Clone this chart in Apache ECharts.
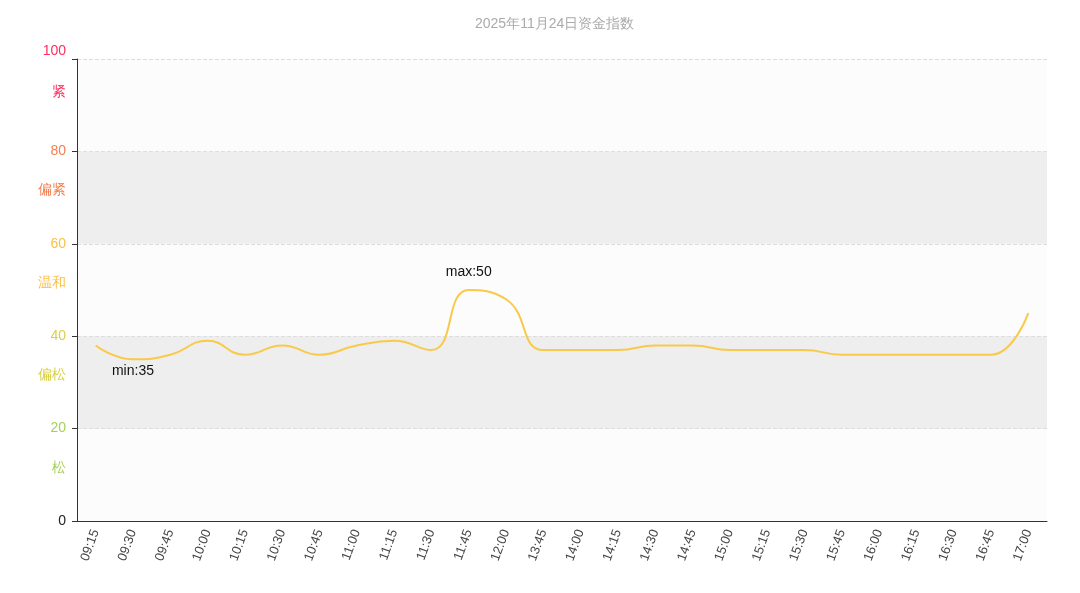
<!DOCTYPE html>
<html><head><meta charset="utf-8">
<script src="https://cdn.jsdelivr.net/npm/echarts@6/dist/echarts.min.js"></script>
<style>html,body{margin:0;padding:0;background:#fff}#c{width:1080px;height:593px}</style>
</head><body><div id="c"></div>
<script>
const titleText = '2025年11月24日资金指数';
const categories = ['09:15','09:30','09:45','10:00','10:15','10:30','10:45','11:00','11:15','11:30','11:45','12:00','13:45','14:00','14:15','14:30','14:45','15:00','15:15','15:30','15:45','16:00','16:15','16:30','16:45','17:00'];
const values = [38,35,36,39,36,38,36,38,39,37,50,48,37,37,37,38,38,37,37,37,36,36,36,36,36,45];
const levelNames = {10:'松',30:'偏松',50:'温和',70:'偏紧',90:'紧'};
const levelColors = {0:'#222',10:'#a6cf5a',20:'#a6cf5a',30:'#d9cf4a',40:'#d9cf4a',50:'#fbbf45',60:'#fbbf45',70:'#f2804e',80:'#f2804e',90:'#ff2d5e',100:'#ff2d5e'};

const chart = echarts.init(document.getElementById('c'));
chart.setOption({
  animation:false,
  title:{text:titleText,left:470,top:12,textStyle:{color:'#aaa',fontSize:14,fontWeight:'normal'}},
  grid:{left:77,right:33,top:59,bottom:72},
  xAxis:{type:'category',data:categories,boundaryGap:true,
    axisLine:{lineStyle:{color:'#333'}},axisTick:{show:false},
    axisLabel:{rotate:70,color:'#444',fontSize:13,interval:0,margin:9}},
  yAxis:[{type:'value',min:0,max:100,interval:20,
    axisLine:{show:true,lineStyle:{color:'#333'}},axisTick:{show:true,lineStyle:{color:'#333'}},
    axisLabel:{fontSize:14,margin:11,
      formatter:function(v){return v===100?'{top|100}':String(v);},
      rich:{top:{fontSize:14,color:'#ff2d5e',padding:[0,0,16,0]}},
      color:function(v){return levelColors[v];}},
    splitLine:{show:true,lineStyle:{type:'dashed',color:'#ddd'}},
    splitArea:{show:true,areaStyle:{color:['#fcfcfc','#eeeeee']}}},
   {type:'value',min:0,max:100,interval:10,position:'left',
    axisLine:{show:false},axisTick:{show:false},splitLine:{show:false},
    axisLabel:{fontSize:14,margin:11,verticalAlign:'bottom',
      formatter:function(v){if(v===90)return '{top|紧}';return levelNames[v]||'';},
      rich:{top:{fontSize:14,color:'#ff2d5e',padding:[0,0,6,0]}},
      color:function(v){return levelColors[v];}}}],
  series:[{type:'line',data:values,smooth:true,showSymbol:false,
    lineStyle:{color:'#f8c94a',width:2},itemStyle:{color:'#f8c94a'},
    markPoint:{symbol:'circle',symbolSize:0,
      data:[
        {type:'max',label:{position:'top',distance:11,formatter:'max:{c}',color:'#111',fontSize:14}},
        {type:'min',label:{position:'bottom',distance:5,formatter:'min:{c}',color:'#111',fontSize:14}}
      ]}}]
});
</script></body></html>
